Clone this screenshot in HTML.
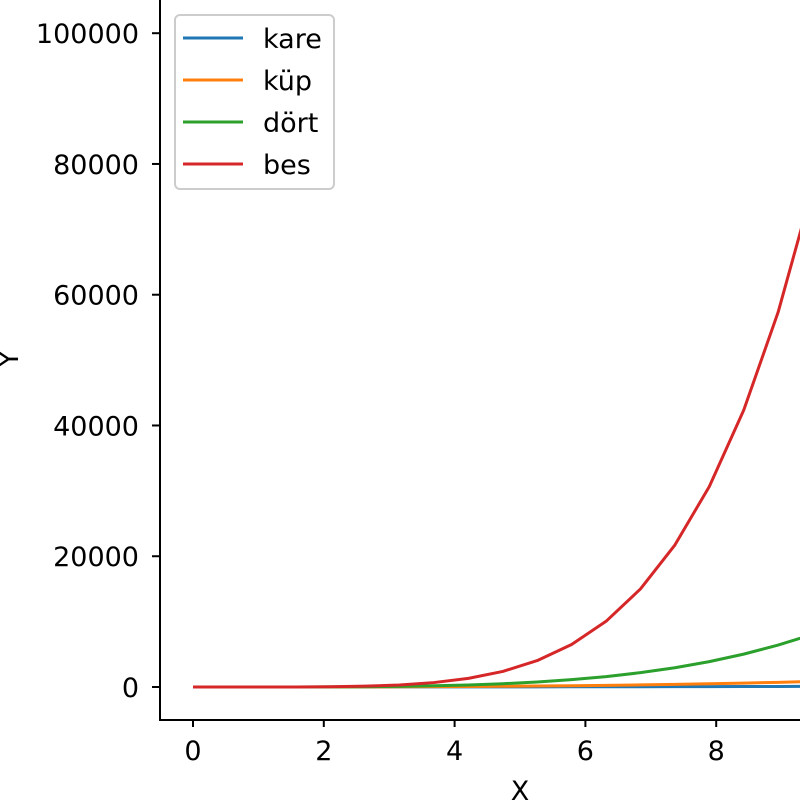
<!DOCTYPE html>
<html><head><meta charset="utf-8"><style>
html,body{margin:0;padding:0;background:#fff;overflow:hidden}
svg{display:block;font-family:"DejaVu Sans","Liberation Sans",sans-serif}
</style></head><body>
<svg id="chart" width="800" height="800" viewBox="0 0 800 800">
<defs><clipPath id="plotclip"><rect x="160" y="-10" width="700" height="730"/></clipPath></defs>
<g id="grid-layer"></g>
<g id="series-layer" clip-path="url(#plotclip)"></g>
<line x1="160" y1="-5" x2="160" y2="720" stroke="#000" stroke-width="2"/>
<line x1="159" y1="720" x2="805" y2="720" stroke="#000" stroke-width="2"/>
<g id="ticks-layer"></g>
<text x="520" y="800" font-size="27" text-anchor="middle">X</text>
<text transform="translate(18,359) rotate(-90)" font-size="27" text-anchor="middle">Y</text>
<g id="legend">
<rect x="175" y="15" width="159" height="174" rx="5" fill="#fff" fill-opacity="0.8" stroke="#ccc" stroke-width="2"/>
</g>
</svg>
<script>
const xs=[0,0.526,1.053,1.579,2.105,2.632,3.158,3.684,4.211,4.737,5.263,5.789,6.316,6.842,7.368,7.895,8.421,8.947,9.474,10];
const kare=[0,0.28,1.11,2.49,4.43,6.93,9.97,13.57,17.73,22.44,27.70,33.51,39.89,46.81,54.29,62.33,70.91,80.06,89.75,100];
const kup=[0,0.15,1.17,3.94,9.33,18.23,31.49,50.0,74.64,106.3,145.8,194.0,251.9,320.3,400.0,492.0,597.2,716.2,850.4,1000];
const dort=[0,0.08,1.23,6.22,19.64,47.96,99.4,184.2,314.3,503.6,767.5,1123,1591,2192,2947,3884,5029,6408,8056,10000];
const bes=[0,0.04,1.29,9.82,41.3,126.2,314,679,1323,2385,4039,6503,10049,14996,21715,30662,42350,57331,76327,100000];
const seriesNames=["kare","küp","dört","bes"];
const xTicks=[0,2,4,6,8];
const yTicks=[0,20000,40000,60000,80000,100000];
const colors=["#1f77b4","#ff7f0e","#2ca02c","#d62728"];
const NS="http://www.w3.org/2000/svg";
function sx(v){return 193+v*65.4;}
function sy(v){return 687-v*0.006538;}
function mk(tag,attrs,parent){const e=document.createElementNS(NS,tag);for(const k in attrs)e.setAttribute(k,attrs[k]);parent.appendChild(e);return e;}
const sl=document.getElementById('series-layer');
const tl=document.getElementById('ticks-layer');
const lg=document.getElementById('legend');
[kare,kup,dort,bes].forEach((arr,i)=>{
  const d=arr.map((v,j)=>(j?'L':'M')+sx(xs[j]).toFixed(2)+','+sy(v).toFixed(2)).join('');
  const p=mk('path',{d:d,fill:'none',stroke:colors[i],'stroke-width':3,'stroke-linejoin':'round'},sl);
  
  
  const y=38+i*42;
  const l=mk('line',{x1:183,x2:243,y1:y,y2:y,stroke:colors[i],'stroke-width':3},lg);
  
  
  const t=mk('text',{x:263,y:y+10,'font-size':27},lg);
  t.textContent=seriesNames[i];
  
  
});
xTicks.forEach(v=>{
  const x=sx(v);
  const l=mk('line',{x1:x,x2:x,y1:720,y2:727,stroke:'#000','stroke-width':2},tl);
  
  
  const t=mk('text',{x:x,y:760,'font-size':27,'text-anchor':'middle'},tl);
  t.textContent=v;
  
  
});
yTicks.forEach(v=>{
  const y=sy(v);
  const l=mk('line',{x1:152,x2:160,y1:y,y2:y,stroke:'#000','stroke-width':2},tl);
  
  
  const t=mk('text',{x:139,y:y+10,'font-size':27,'text-anchor':'end'},tl);
  t.textContent=v;
  
  
});
</script>
</body></html>
